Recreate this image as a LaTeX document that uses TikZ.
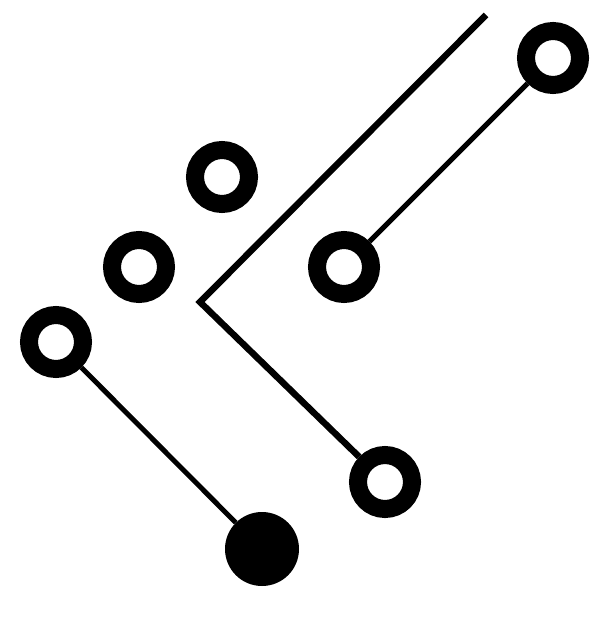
\documentclass[tikz,border=0pt]{standalone}
\begin{document}
\begin{tikzpicture}[x=1pt,y=-1pt,
    ring/.style={circle,draw,line width=18pt,minimum size=54pt,inner sep=0pt},
    dot/.style={circle,fill,minimum size=74pt,inner sep=0pt},
    link/.style={line width=5pt},
    vline/.style={line width=6.5pt,line join=miter}]
  \useasboundingbox (0,0) rectangle (595,617);
  \node[ring] (r1) at (553,58) {};
  \node[ring] (r2) at (344,267) {};
  \node[ring] (r3) at (222,177) {};
  \node[ring] (r4) at (139,267) {};
  \node[ring] (r5) at (56,342) {};
  \node[ring] (r6) at (385,482) {};
  \node[dot] (d1) at (262,549) {};
  \coordinate (tip) at (200,302);
  \coordinate (top) at (486,15);
  \draw[link] (r1) -- (r2);
  \draw[link] (r5) -- (d1);
  \draw[vline] (top) -- (tip) -- (r6);
\end{tikzpicture}
\end{document}
